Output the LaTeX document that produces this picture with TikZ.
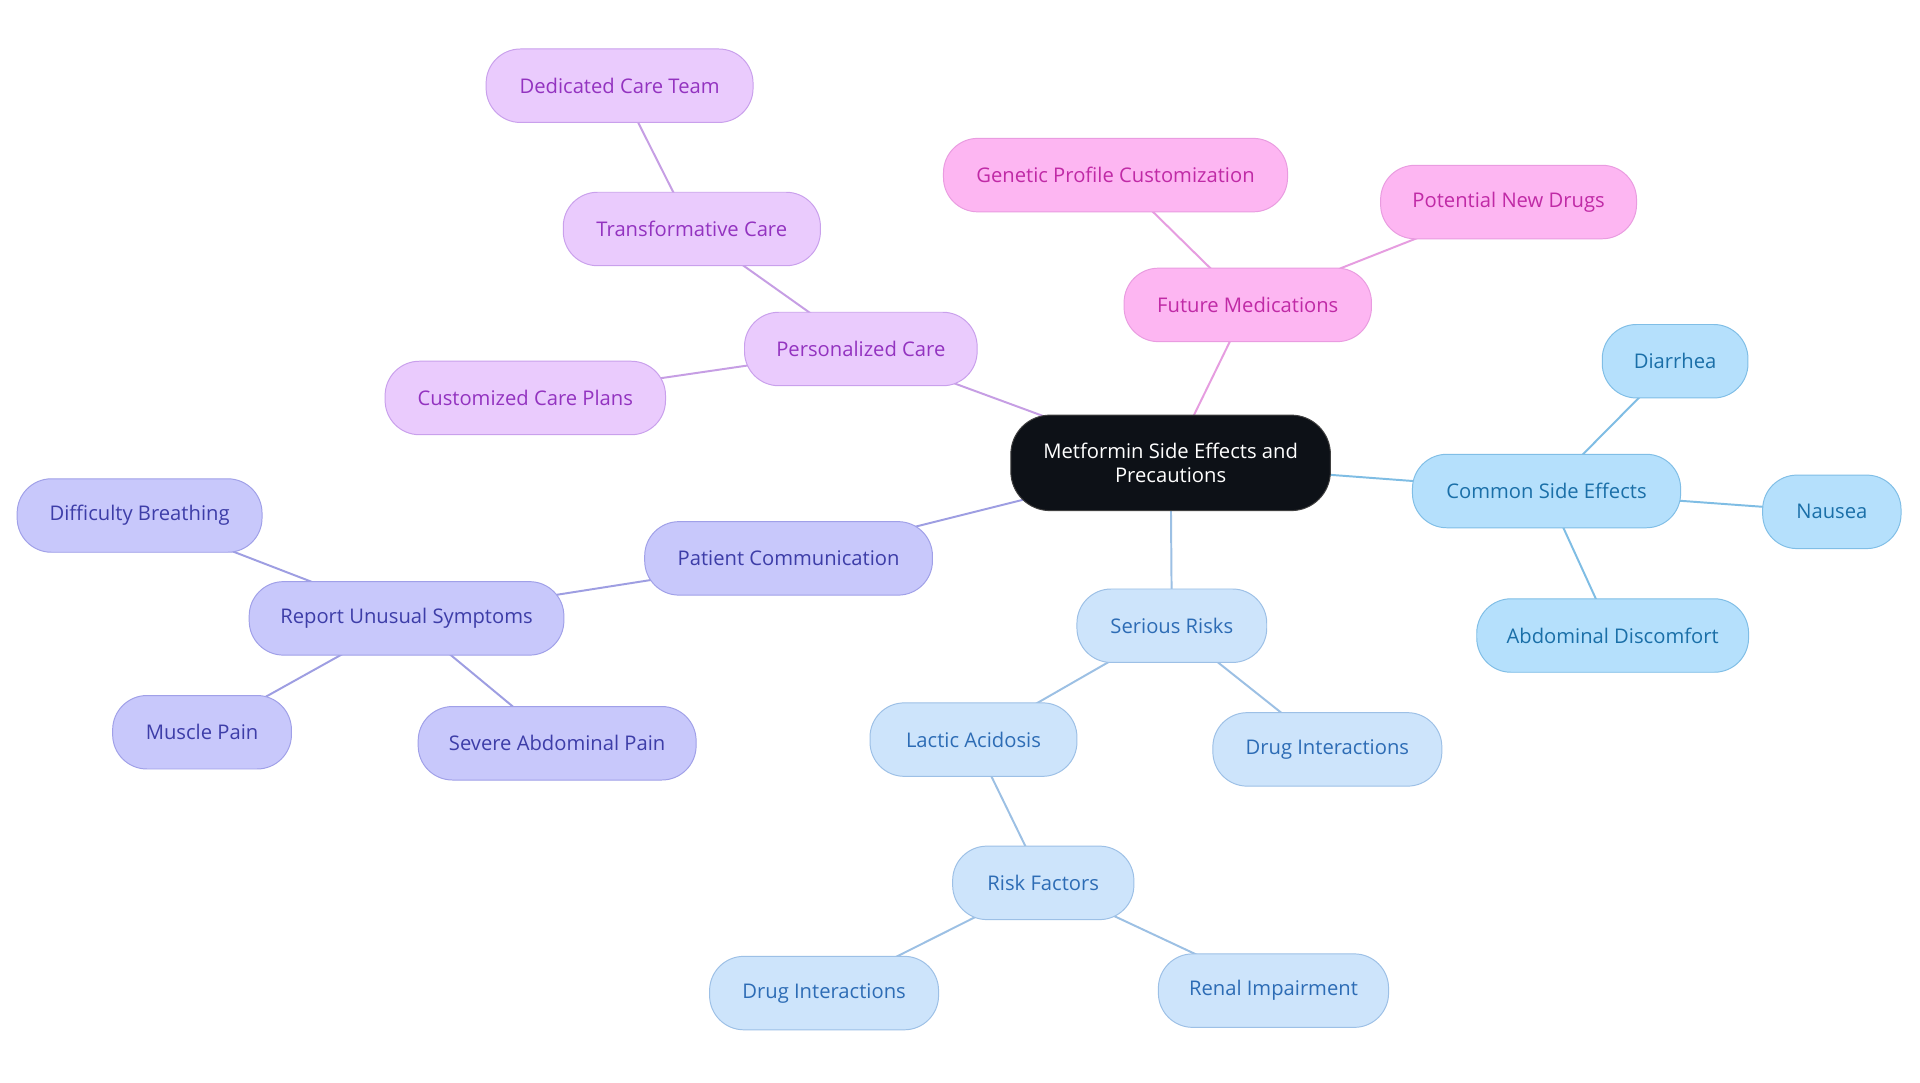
\documentclass[tikz,border=0pt]{standalone}
\usepackage{fontspec}
\setmainfont{Open Sans}
\usetikzlibrary{backgrounds}
\definecolor{pfill}{HTML}{EACBFD}\definecolor{pdraw}{HTML}{C9A0EC}\definecolor{ptext}{HTML}{9333C0}\definecolor{pline}{HTML}{C69EE4}
\definecolor{kfill}{HTML}{FDB6F2}\definecolor{kdraw}{HTML}{E99CE0}\definecolor{ktext}{HTML}{C02AA6}\definecolor{kline}{HTML}{E69DE0}
\definecolor{bfill}{HTML}{B5E0FC}\definecolor{bdraw}{HTML}{80BEE6}\definecolor{btext}{HTML}{1A6FA8}\definecolor{bline}{HTML}{7FBDE4}
\definecolor{lfill}{HTML}{CDE4FB}\definecolor{ldraw}{HTML}{9DC0E6}\definecolor{ltext}{HTML}{2D6CB5}\definecolor{lline}{HTML}{9CC0E4}
\definecolor{ifill}{HTML}{C8C8FB}\definecolor{idraw}{HTML}{A0A0E8}\definecolor{itext}{HTML}{3D3DA8}\definecolor{iline}{HTML}{9E9EE2}
\definecolor{cfill}{HTML}{0D1117}
\begin{document}
\begin{tikzpicture}[x=1pt,y=-1pt,
  box/.style={rounded corners=28pt, minimum height=60pt, inner sep=0pt, line width=0.8pt, font=\fontsize{16.5}{19}\selectfont, align=center},
  pbox/.style={box, fill=pfill, draw=pdraw, text=ptext},
  kbox/.style={box, fill=kfill, draw=kdraw, text=ktext},
  bbox/.style={box, fill=bfill, draw=bdraw, text=btext},
  lbox/.style={box, fill=lfill, draw=ldraw, text=ltext},
  ibox/.style={box, fill=ifill, draw=idraw, text=itext},
  cbox/.style={box, rounded corners=32pt, minimum height=78pt, fill=cfill, draw=black!75, text=white},
  edge/.style={line width=1.6pt}]
\useasboundingbox (0,0) rectangle (1568,884.4);
\node[cbox, minimum width=261pt] (c) at (956,378) {Metformin Side Effects and\\Precautions};
\node[pbox, minimum width=190pt] (pc) at (703,285) {Personalized Care};
\node[pbox, minimum width=210pt] (tc) at (565,187) {Transformative Care};
\node[pbox, minimum width=218pt] (dct) at (506,70) {Dedicated Care Team};
\node[pbox, minimum width=229pt] (ccp) at (429,325) {Customized Care Plans};
\node[kbox, minimum width=202pt] (fm) at (1019,249) {Future Medications};
\node[kbox, minimum width=281pt] (gpc) at (911,143) {Genetic Profile Customization};
\node[kbox, minimum width=209pt] (pnd) at (1232,165) {Potential New Drugs};
\node[bbox, minimum width=219pt] (cse) at (1263,401) {Common Side Effects};
\node[bbox, minimum width=119pt] (dia) at (1368,295) {Diarrhea};
\node[bbox, minimum width=113pt] (nau) at (1496,418) {Nausea};
\node[bbox, minimum width=222pt] (abd) at (1317,519) {Abdominal Discomfort};
\node[lbox, minimum width=155pt] (sr) at (957,511) {Serious Risks};
\node[lbox, minimum width=169pt] (la) at (795,604) {Lactic Acidosis};
\node[lbox, minimum width=187pt] (di1) at (1084,612) {Drug Interactions};
\node[lbox, minimum width=148pt] (rf) at (852,721) {Risk Factors};
\node[lbox, minimum width=187pt] (di2) at (673,811) {Drug Interactions};
\node[lbox, minimum width=188pt] (ri) at (1040,809) {Renal Impairment};
\node[ibox, minimum width=235pt] (pcm) at (644,456) {Patient Communication};
\node[ibox, minimum width=257pt] (rus) at (332,505) {Report Unusual Symptoms};
\node[ibox, minimum width=200pt] (db) at (114,421) {Difficulty Breathing};
\node[ibox, minimum width=146pt] (mp) at (165,598) {Muscle Pain};
\node[ibox, minimum width=227pt] (sap) at (455,607) {Severe Abdominal Pain};
\begin{scope}[on background layer]
\fill[white] (0,0) rectangle (1568,884.4);
\draw[edge, pline] (c.center) -- (pc.center);
\draw[edge, pline] (pc.center) -- (tc.center);
\draw[edge, pline] (tc.center) -- (dct.center);
\draw[edge, pline] (pc.center) -- (ccp.center);
\draw[edge, kline] (c.center) -- (fm.center);
\draw[edge, kline] (fm.center) -- (gpc.center);
\draw[edge, kline] (fm.center) -- (pnd.center);
\draw[edge, bline] (c.center) -- (cse.center);
\draw[edge, bline] (cse.center) -- (dia.center);
\draw[edge, bline] (cse.center) -- (nau.center);
\draw[edge, bline] (cse.center) -- (abd.center);
\draw[edge, lline] (c.center) -- (sr.center);
\draw[edge, lline] (sr.center) -- (la.center);
\draw[edge, lline] (sr.center) -- (di1.center);
\draw[edge, lline] (la.center) -- (rf.center);
\draw[edge, lline] (rf.center) -- (di2.center);
\draw[edge, lline] (rf.center) -- (ri.center);
\draw[edge, iline] (c.center) -- (pcm.center);
\draw[edge, iline] (pcm.center) -- (rus.center);
\draw[edge, iline] (rus.center) -- (db.center);
\draw[edge, iline] (rus.center) -- (mp.center);
\draw[edge, iline] (rus.center) -- (sap.center);
\end{scope}
\end{tikzpicture}
\end{document}
